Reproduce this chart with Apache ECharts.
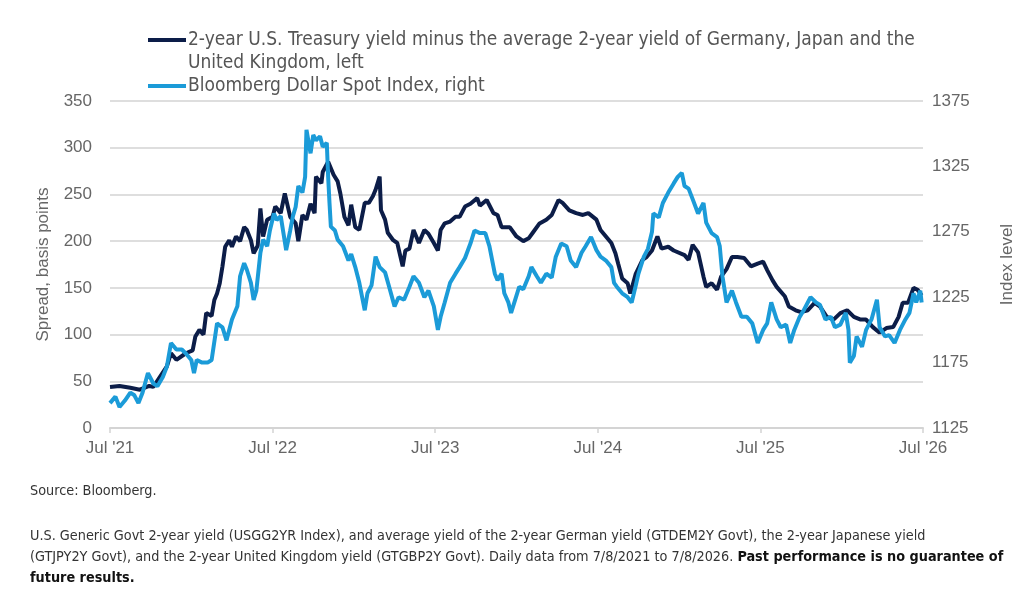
<!DOCTYPE html>
<html>
<head>
<meta charset="utf-8">
<script src="https://cdn.jsdelivr.net/npm/echarts@6/dist/echarts.min.js"></script>
<style>
  html, body { margin: 0; padding: 0; background: #fff; }
  #chart { width: 1024px; height: 605px; }
</style>
</head>
<body>
<div id="chart"></div>
<script>
// months since Jul 2021 and spread in basis points (left axis)
var spreadMonths = [0, 0.7, 1.5, 2.2, 2.9, 3.2, 3.7, 4.2, 4.5, 4.9, 5.6, 6.1, 6.3, 6.6, 6.9, 7.1, 7.5, 7.7, 7.9, 8.1,
  8.3, 8.5, 8.8, 9.0, 9.3, 9.6, 9.9, 10.1, 10.4, 10.6, 10.9, 11.1, 11.3, 11.6, 12.0, 12.2, 12.6, 12.9, 13.3, 13.7,
  13.9, 14.2, 14.5, 14.8, 15.1, 15.2, 15.6, 15.7, 16.1, 16.5, 16.8, 17.0, 17.3, 17.6, 17.8, 18.1, 18.4, 18.8, 19.1, 19.4,
  19.6, 19.9, 20.0, 20.3, 20.5, 20.9, 21.2, 21.6, 21.8, 22.1, 22.4, 22.8, 23.2, 23.5, 23.9, 24.2, 24.4, 24.7, 25.1, 25.5,
  25.8, 26.2, 26.6, 27.1, 27.3, 27.8, 28.3, 28.6, 28.9, 29.5, 30.0, 30.5, 30.9, 31.2, 31.7, 32.2, 32.6, 33.1, 33.4, 33.9,
  34.4, 34.9, 35.3, 35.9, 36.2, 36.6, 37.0, 37.3, 37.5, 37.8, 38.2, 38.4, 38.8, 39.3, 39.6, 40.0, 40.4, 40.7, 41.2, 41.6,
  42.4, 42.7, 43.0, 43.4, 43.8, 44.0, 44.4, 44.8, 45.1, 45.5, 45.9, 46.3, 46.8, 47.3, 47.8, 48.2, 48.5, 48.9, 49.2, 49.8,
  50.1, 50.6, 51.0, 51.5, 52.0, 52.4, 52.9, 53.4, 53.9, 54.4, 54.9, 55.4, 55.8, 56.3, 56.8, 57.3, 57.8, 58.2, 58.5, 58.9,
  59.3, 59.6, 59.9];
var spreadValues = [44, 45, 43, 41, 45, 44, 55, 66, 80, 73, 80, 83, 98, 105, 100, 123, 120, 137, 144, 155,
  173, 194, 201, 194, 205, 200, 215, 212, 201, 187, 195, 235, 205, 223, 226, 237, 230, 251, 226, 219,
  200, 228, 223, 240, 230, 269, 262, 274, 285, 271, 264, 251, 226, 217, 239, 215, 212, 241, 241, 248,
  255, 269, 233, 223, 209, 201, 198, 173, 190, 192, 212, 198, 212, 208, 198, 190, 212, 219, 221, 226,
  226, 237, 240, 246, 238, 244, 230, 228, 215, 215, 205, 200, 203, 209, 219, 223, 228, 244, 241, 233,
  230, 228, 230, 223, 212, 205, 198, 187, 176, 160, 155, 144, 165, 180, 183, 190, 205, 192, 194, 190,
  185, 180, 196, 188, 162, 151, 155, 148, 162, 170, 183, 183, 182, 173, 176, 178, 169, 158, 151, 141,
  130, 126, 124, 126, 134, 130, 119, 116, 123, 126, 119, 116, 116, 108, 102, 107, 108, 119, 134, 134,
  150, 148, 142];

// months since Jul 2021 and Bloomberg Dollar Spot Index (right axis)
var dollarMonths = [0, 0.4, 0.7, 1.1, 1.5, 1.8, 2.1, 2.4, 2.8, 3.2, 3.5, 3.9, 4.2, 4.5, 4.9, 5.3, 5.6, 6.0, 6.2, 6.4,
  6.8, 7.2, 7.5, 7.9, 8.3, 8.6, 9.0, 9.4, 9.6, 9.9, 10.1, 10.4, 10.6, 10.8, 11.1, 11.3, 11.6, 11.8, 12.1, 12.3,
  12.6, 12.8, 13.0, 13.3, 13.5, 13.7, 13.9, 14.2, 14.4, 14.5, 14.8, 15.0, 15.2, 15.5, 15.7, 16.0, 16.1, 16.2, 16.3, 16.6,
  16.8, 17.2, 17.6, 17.8, 18.1, 18.4, 18.8, 19.0, 19.3, 19.6, 19.9, 20.3, 20.6, 21.0, 21.3, 21.7, 22.1, 22.4, 22.8, 23.2,
  23.5, 23.9, 24.2, 24.4, 24.7, 25.1, 25.5, 25.8, 26.2, 26.6, 26.9, 27.3, 27.7, 28.0, 28.4, 28.6, 28.9, 29.1, 29.4, 29.6,
  29.9, 30.2, 30.5, 30.9, 31.1, 31.5, 31.8, 32.2, 32.6, 32.9, 33.3, 33.7, 34.0, 34.4, 34.8, 35.1, 35.5, 35.9, 36.2, 36.6,
  37.0, 37.2, 37.4, 37.8, 38.2, 38.5, 38.8, 39.0, 39.4, 39.7, 40.0, 40.1, 40.5, 40.8, 41.2, 41.6, 41.9, 42.2, 42.4, 42.7,
  43.0, 43.4, 43.8, 44.0, 44.4, 44.8, 45.0, 45.2, 45.5, 45.9, 46.2, 46.6, 47.0, 47.4, 47.8, 48.2, 48.5, 48.8, 49.2, 49.5,
  49.9, 50.2, 50.5, 50.9, 51.2, 51.7, 52.1, 52.4, 52.8, 53.2, 53.5, 53.9, 54.3, 54.5, 54.6, 54.9, 55.1, 55.5, 55.8, 56.2,
  56.6, 56.8, 57.2, 57.5, 57.9, 58.3, 58.7, 59.0, 59.3, 59.5, 59.8, 59.9];
var dollarValues = [1144, 1149, 1141, 1146, 1152, 1150, 1144, 1152, 1167, 1159, 1157, 1164, 1172, 1190, 1185, 1185, 1182, 1177, 1167, 1177,
  1175, 1175, 1177, 1205, 1202, 1192, 1208, 1218, 1241, 1251, 1246, 1236, 1223, 1230, 1259, 1269, 1264, 1276, 1289, 1284,
  1287, 1274, 1261, 1276, 1287, 1294, 1310, 1305, 1317, 1353, 1335, 1349, 1345, 1348, 1340, 1343, 1317, 1297, 1279, 1276,
  1269, 1264, 1253, 1258, 1248, 1236, 1215, 1228, 1234, 1256, 1248, 1244, 1233, 1218, 1225, 1223, 1233, 1241, 1236, 1225,
  1230, 1218, 1200, 1210, 1221, 1236, 1243, 1248, 1255, 1266, 1276, 1274, 1274, 1264, 1243, 1238, 1243, 1228, 1221, 1213,
  1223, 1233, 1231, 1241, 1248, 1241, 1236, 1243, 1240, 1256, 1266, 1264, 1253, 1248, 1259, 1264, 1271, 1261, 1256, 1253,
  1248, 1236, 1233, 1228, 1225, 1221, 1234, 1243, 1256, 1262, 1275, 1289, 1286, 1297, 1305, 1312, 1317, 1320, 1310, 1308,
  1300, 1289, 1297, 1282, 1274, 1271, 1264, 1241, 1221, 1230, 1221, 1210, 1210, 1205, 1190, 1200, 1205, 1221, 1208, 1202,
  1204, 1190, 1200, 1210, 1215, 1225, 1221, 1219, 1208, 1210, 1202, 1204, 1213, 1200, 1175, 1180, 1195, 1187, 1200, 1208,
  1223, 1202, 1195, 1196, 1190, 1200, 1208, 1213, 1228, 1221, 1230, 1221];

var leftTicks = [0, 350, 50];
var rightTicks = [1125, 1375, 50];
var yearLabels = ["Jul '21", "Jul '22", "Jul '23", "Jul '24", "Jul '25", "Jul '26"];

var NAVY = '#0c1d48';
var BLUE = '#1b9bd8';
var narrow = "'Liberation Sans Narrow', 'DejaVu Sans Condensed', sans-serif";

function pairs(xs, ys) {
  return xs.map(function (x, i) { return [x, ys[i]]; });
}

var myChart = echarts.init(document.getElementById('chart'), null, { renderer: 'canvas' });
var option = {
  animation: false,
  backgroundColor: '#fff',
  grid: { left: 110, right: 95, top: 101, bottom: 177 },
  xAxis: {
    type: 'value',
    min: 0,
    max: 60,
    interval: 12,
    axisLine: { lineStyle: { color: '#d4d4d4', width: 2 } },
    axisTick: { show: true, length: 5, lineStyle: { color: '#d4d4d4', width: 1.5 } },
    splitLine: { show: false },
    axisLabel: {
      color: '#666', fontSize: 17, fontFamily: 'Liberation Sans', margin: 12,
      formatter: function (v) { return yearLabels[Math.round(v / 12)]; }
    }
  },
  yAxis: [
    {
      type: 'value',
      min: leftTicks[0], max: leftTicks[1], interval: leftTicks[2],
      name: 'Spread, basis points',
      nameLocation: 'middle',
      nameGap: 58,
      nameRotate: 90,
      nameTextStyle: { color: '#666', fontSize: 17, fontFamily: 'Liberation Sans' },
      axisLine: { show: false },
      axisTick: { show: false },
      axisLabel: { color: '#666', fontSize: 17, fontFamily: 'Liberation Sans', margin: 18 },
      splitLine: { lineStyle: { color: '#dedede', width: 2 } }
    },
    {
      type: 'value',
      position: 'right',
      min: rightTicks[0], max: rightTicks[1], interval: rightTicks[2],
      name: 'Index level',
      nameLocation: 'middle',
      nameGap: 76,
      nameRotate: 90,
      nameTextStyle: { color: '#666', fontSize: 17, fontFamily: 'Liberation Sans' },
      axisLine: { show: false },
      axisTick: { show: false },
      axisLabel: {
        color: '#666', fontSize: 17, fontFamily: 'Liberation Sans', margin: 9,
        formatter: function (v) { return String(v); }
      },
      splitLine: { show: false }
    }
  ],
  series: [
    {
      name: 'Spread',
      type: 'line',
      yAxisIndex: 0,
      showSymbol: false,
      data: pairs(spreadMonths, spreadValues),
      lineStyle: { color: NAVY, width: 4 },
      itemStyle: { color: NAVY }
    },
    {
      name: 'Dollar',
      type: 'line',
      yAxisIndex: 1,
      showSymbol: false,
      data: pairs(dollarMonths, dollarValues),
      lineStyle: { color: BLUE, width: 4 },
      itemStyle: { color: BLUE }
    }
  ],
  graphic: [
    // legend
    { type: 'rect', shape: { x: 148, y: 38, width: 38, height: 4 }, style: { fill: NAVY } },
    {
      type: 'text', left: 188, top: 29,
      style: {
        text: '2-year U.S. Treasury yield minus the average 2-year yield of Germany, Japan and the\nUnited Kingdom, left',
        fill: '#555', fontSize: 19, lineHeight: 23, fontFamily: narrow
      }
    },
    { type: 'rect', shape: { x: 148, y: 84, width: 38, height: 4 }, style: { fill: BLUE } },
    {
      type: 'text', left: 188, top: 75,
      style: { text: 'Bloomberg Dollar Spot Index, right', fill: '#555', fontSize: 19, lineHeight: 23, fontFamily: narrow }
    },
    // notes
    {
      type: 'text', left: 30, top: 484,
      style: { text: 'Source: Bloomberg.', fill: '#333', fontSize: 14.3, fontFamily: narrow }
    },
    {
      type: 'text', left: 30, top: 526,
      style: {
        text: 'U.S. Generic Govt 2-year yield (USGG2YR Index), and average yield of the 2-year German yield (GTDEM2Y Govt), the 2-year Japanese yield\n' +
          '(GTJPY2Y Govt), and the 2-year United Kingdom yield (GTGBP2Y Govt). Daily data from 7/8/2021 to 7/8/2026. {b|Past performance is no guarantee of}\n' +
          '{b|future results.}',
        fill: '#333', fontSize: 14.3, lineHeight: 21, fontFamily: narrow,
        rich: { b: { fontWeight: 'bold', fill: '#111', fontSize: 14.3, lineHeight: 21, fontFamily: narrow } }
      }
    }
  ]
};
myChart.setOption(option);
</script>
</body>
</html>
